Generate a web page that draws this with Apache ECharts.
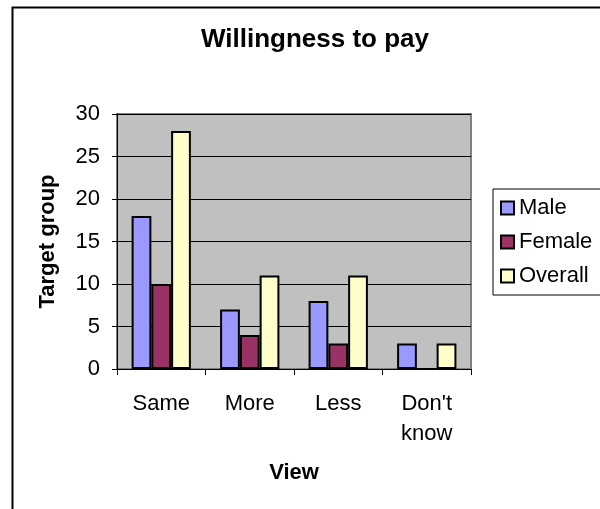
<!DOCTYPE html>
<html><head><meta charset="utf-8">
<script src="https://cdn.jsdelivr.net/npm/echarts@6/dist/echarts.min.js"></script>
<style>html,body{margin:0;padding:0;background:#fff}#c{width:600px;height:509px}</style>
</head><body><div id="c"></div>
<script>
const categories = ["Same", "More", "Less", "Don't\nknow"];
const male = [18, 7, 8, 3];
const female = [10, 4, 3, 0];
const overall = [28, 11, 11, 3];
const yTicks = {min: 0, max: 30, interval: 5};

const font = 'Liberation Sans, Arial, sans-serif';
const chart = echarts.init(document.getElementById('c'), null, {renderer: 'canvas'});
const barStyle = c => ({color: c, borderColor: '#000', borderWidth: 2});
chart.setOption({
  animation: false,
  backgroundColor: '#fff',
  graphic: [{type: 'rect', left: 10, top: 5, shape: {width: 620, height: 540}, style: {fill: 'none', stroke: '#000', lineWidth: 2}, z: 100}],
  title: {text: 'Willingness to pay', left: 310, top: 22, textAlign: 'center',
    textStyle: {fontFamily: font, fontSize: 26, fontWeight: 'bold', color: '#000'}},
  grid: {left: 117, right: 129, top: 114, bottom: 140, show: true, backgroundColor: '#C0C0C0', borderColor: '#808080', borderWidth: 2},
  legend: {orient: 'vertical', left: 493, top: 189, padding: [8, 40, 8, 7], icon: 'rect',
    borderColor: '#000', borderWidth: 1, itemWidth: 13, itemHeight: 13, itemGap: 12,
    itemStyle: {borderColor: '#000', borderWidth: 2},
    textStyle: {fontFamily: font, fontSize: 22, lineHeight: 22, color: '#000', padding: [0, 0, 0, 0]},
    data: ['Male', 'Female', 'Overall']},
  xAxis: {type: 'category', data: categories, name: 'View', nameLocation: 'middle', nameGap: 93,
    nameTextStyle: {fontFamily: font, fontSize: 22, fontWeight: 'bold', color: '#000'},
    axisLine: {lineStyle: {color: '#000', width: 1}}, axisTick: {show: true, length: 6, lineStyle: {color: '#000'}},
    axisLabel: {fontFamily: font, fontSize: 22, color: '#000', margin: 20, lineHeight: 30}},
  yAxis: {type: 'value', min: yTicks.min, max: yTicks.max, interval: yTicks.interval,
    name: 'Target group', nameLocation: 'middle', nameGap: 58,
    nameTextStyle: {fontFamily: font, fontSize: 22, fontWeight: 'bold', color: '#000'},
    axisLine: {show: true, lineStyle: {color: '#000'}}, axisTick: {show: true, length: 5, lineStyle: {color: '#000'}},
    splitLine: {lineStyle: {color: '#000', width: 1}},
    axisLabel: {fontFamily: font, fontSize: 22, color: '#000', margin: 17}},
  series: [
    {name: 'Male', type: 'bar', data: male, itemStyle: barStyle('#9999FF'), barGap: '0%', barCategoryGap: '33%'},
    {name: 'Female', type: 'bar', data: female, itemStyle: barStyle('#993366')},
    {name: 'Overall', type: 'bar', data: overall, itemStyle: barStyle('#FFFFCC')}
  ]
});
</script></body></html>
